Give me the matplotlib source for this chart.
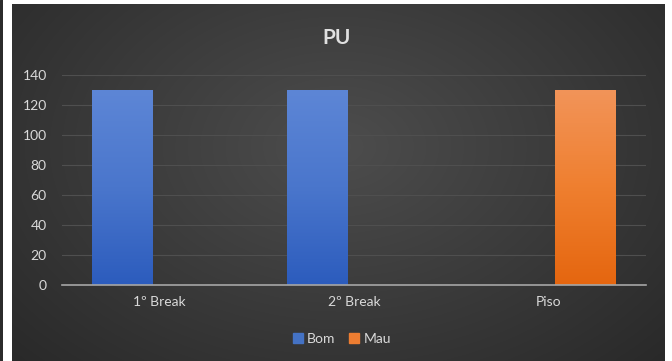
import numpy as np
import matplotlib
matplotlib.use("Agg")
import matplotlib.pyplot as plt
from matplotlib.patches import Rectangle
from matplotlib.colors import LinearSegmentedColormap

categories = ["1º Break", "2º Break", "Piso"]
bom = [130, 130, 0]
mau = [0, 0, 130]
yticks = [0, 20, 40, 60, 80, 100, 120, 140]
title = "PU"

plt.rcParams['font.family'] = ['Lato', 'DejaVu Sans']

W, H = 672, 361
fig = plt.figure(figsize=(W / 100, H / 100), dpi=100, facecolor="white")

# dark strip at far left
strip = fig.add_axes([0, 0, 3 / W, 1])
strip.set_axis_off()
strip.add_patch(Rectangle((0, 0), 1, 1, color="#2b2b2b", transform=strip.transAxes))

# chart background with radial gradient
bg = fig.add_axes([12 / W, 0, (665 - 12) / W, (H - 4) / H])
bg.set_axis_off()
yy, xx = np.mgrid[0:1:300j, 0:1:600j]
r = np.sqrt(((xx - 0.5) / 0.75) ** 2 + ((yy - 0.6) / 0.95) ** 2)
r = np.clip(r, 0, 1)
light = np.array([0x4d, 0x4d, 0x4d]) / 255
dark = np.array([0x26, 0x26, 0x26]) / 255
img = light[None, None, :] * (1 - r[..., None]) + dark[None, None, :] * r[..., None]
bg.imshow(img, extent=[0, 1, 0, 1], aspect="auto", origin="lower")
bg.set_xlim(0, 1)
bg.set_ylim(0, 1)

ax = fig.add_axes([62 / W, (H - 285) / H, (646 - 62) / W, (285 - 75) / H])
ax.patch.set_alpha(0)
x = np.arange(len(categories))
bw = 0.31
off = 0.19
b1 = ax.bar(x - off, bom, bw, color="#4472c4", label="Bom", zorder=3)
b2 = ax.bar(x + off, mau, bw, color="#ed7d31", label="Mau", zorder=3)

cmap_b = LinearSegmentedColormap.from_list("b", ["#2c5cbd", "#4a76cc", "#5d86d6"])
cmap_o = LinearSegmentedColormap.from_list("o", ["#e5660f", "#ef7f2f", "#f29459"])
grad = np.linspace(0, 1, 256).reshape(-1, 1)
for bars, cm in ((b1, cmap_b), (b2, cmap_o)):
    for p in bars:
        h = p.get_height()
        if h <= 0:
            p.set_visible(False)
            continue
        x0 = p.get_x()
        im = ax.imshow(grad, extent=[x0, x0 + p.get_width(), 0, h], origin="lower",
                       aspect="auto", cmap=cm, zorder=3.5)
        im.set_clip_path(p)
        p.set_facecolor("none")

ax.set_xlim(-0.5, 2.5)
ax.set_ylim(0, 140)
ax.set_yticks(yticks)
ax.set_xticks(x)
ax.set_xticklabels(categories)
ax.yaxis.grid(True, color="#4f4f4f", lw=0.8, zorder=0)
ax.set_axisbelow(True)
for s in ["top", "right", "left"]:
    ax.spines[s].set_visible(False)
ax.spines["bottom"].set_color("#a6a6a6")
ax.spines["bottom"].set_linewidth(1.2)
ax.spines["bottom"].set_zorder(4)
ax.tick_params(axis="both", length=0, colors="#d9d9d9", labelsize=10)
ax.tick_params(axis="y", pad=11)
ax.tick_params(axis="x", pad=8)

fig.text(337 / W, 1 - 38 / H, title, ha="center", va="center", fontsize=15,
         fontweight="bold", color="#e0e0e0")

handles = [Rectangle((0, 0), 1, 1, color="#4472c4"), Rectangle((0, 0), 1, 1, color="#ed7d31")]
leg = fig.legend(handles, ["Bom", "Mau"], loc="center", bbox_to_anchor=(342 / W, 1 - 339 / H),
                 ncol=2, frameon=False, fontsize=10, handlelength=0.7, handleheight=0.7,
                 handletextpad=0.3, columnspacing=1.0)
for t in leg.get_texts():
    t.set_color("#d9d9d9")

fig.savefig("out.png", dpi=100, facecolor="white")
